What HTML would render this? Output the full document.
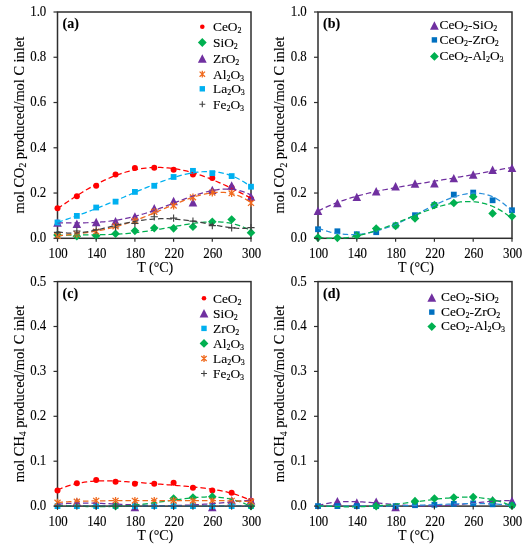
<!DOCTYPE html>
<html><head><meta charset="utf-8"><style>
html,body{margin:0;padding:0;background:#fff;width:530px;height:550px;overflow:hidden}
svg{display:block}
text{font-family:"Liberation Serif", serif;fill:#000;stroke:#000;stroke-width:0.12px}
svg{filter:blur(0.35px)}
</style></head><body>
<svg width="530" height="550" viewBox="0 0 530 550">
<rect width="530" height="550" fill="#fff"/>
<rect x="57.5" y="12" width="193.5" height="226.3" fill="none" stroke="#2e2e2e" stroke-width="1.5"/>
<circle cx="57.50" cy="208.20" r="3.0" fill="#FF0000"/>
<circle cx="76.85" cy="196.21" r="3.0" fill="#FF0000"/>
<circle cx="96.20" cy="185.80" r="3.0" fill="#FF0000"/>
<circle cx="115.55" cy="174.48" r="3.0" fill="#FF0000"/>
<circle cx="134.90" cy="167.92" r="3.0" fill="#FF0000"/>
<circle cx="154.25" cy="167.69" r="3.0" fill="#FF0000"/>
<circle cx="173.60" cy="169.73" r="3.0" fill="#FF0000"/>
<circle cx="192.95" cy="174.48" r="3.0" fill="#FF0000"/>
<circle cx="212.30" cy="178.10" r="3.0" fill="#FF0000"/>
<circle cx="231.65" cy="187.61" r="3.0" fill="#FF0000"/>
<circle cx="251.00" cy="198.70" r="3.0" fill="#FF0000"/>
<path d="M57.50 230.61L61.80 234.91L57.50 239.21L53.20 234.91Z" fill="#00B050"/>
<path d="M76.85 231.96L81.15 236.26L76.85 240.56L72.55 236.26Z" fill="#00B050"/>
<path d="M96.20 231.51L100.50 235.81L96.20 240.11L91.90 235.81Z" fill="#00B050"/>
<path d="M115.55 229.47L119.85 233.77L115.55 238.07L111.25 233.77Z" fill="#00B050"/>
<path d="M134.90 226.53L139.20 230.83L134.90 235.13L130.60 230.83Z" fill="#00B050"/>
<path d="M154.25 223.82L158.55 228.12L154.25 232.42L149.95 228.12Z" fill="#00B050"/>
<path d="M173.60 224.04L177.90 228.34L173.60 232.64L169.30 228.34Z" fill="#00B050"/>
<path d="M192.95 222.46L197.25 226.76L192.95 231.06L188.65 226.76Z" fill="#00B050"/>
<path d="M212.30 217.48L216.60 221.78L212.30 226.08L208.00 221.78Z" fill="#00B050"/>
<path d="M231.65 215.22L235.95 219.52L231.65 223.82L227.35 219.52Z" fill="#00B050"/>
<path d="M251.00 228.34L255.30 232.64L251.00 236.94L246.70 232.64Z" fill="#00B050"/>
<path d="M57.50 218.26L61.80 226.66L53.20 226.66Z" fill="#7030A0"/>
<path d="M76.85 219.62L81.15 228.02L72.55 228.02Z" fill="#7030A0"/>
<path d="M96.20 217.81L100.50 226.21L91.90 226.21Z" fill="#7030A0"/>
<path d="M115.55 216.90L119.85 225.30L111.25 225.30Z" fill="#7030A0"/>
<path d="M134.90 212.15L139.20 220.55L130.60 220.55Z" fill="#7030A0"/>
<path d="M154.25 204.00L158.55 212.40L149.95 212.40Z" fill="#7030A0"/>
<path d="M173.60 196.76L177.90 205.16L169.30 205.16Z" fill="#7030A0"/>
<path d="M192.95 198.12L197.25 206.52L188.65 206.52Z" fill="#7030A0"/>
<path d="M212.30 185.67L216.60 194.07L208.00 194.07Z" fill="#7030A0"/>
<path d="M231.65 181.37L235.95 189.77L227.35 189.77Z" fill="#7030A0"/>
<path d="M251.00 192.46L255.30 200.86L246.70 200.86Z" fill="#7030A0"/>
<path d="M57.50 232.01V239.61M54.46 232.96L60.54 238.66M60.54 232.96L54.46 238.66" stroke="#F06A1E" stroke-width="1.3" fill="none"/>
<path d="M76.85 230.20V237.80M73.81 231.15L79.89 236.85M79.89 231.15L73.81 236.85" stroke="#F06A1E" stroke-width="1.3" fill="none"/>
<path d="M96.20 227.71V235.31M93.16 228.66L99.24 234.36M99.24 228.66L93.16 234.36" stroke="#F06A1E" stroke-width="1.3" fill="none"/>
<path d="M115.55 222.51V230.11M112.51 223.46L118.59 229.16M118.59 223.46L112.51 229.16" stroke="#F06A1E" stroke-width="1.3" fill="none"/>
<path d="M134.90 217.07V224.67M131.86 218.02L137.94 223.72M137.94 218.02L131.86 223.72" stroke="#F06A1E" stroke-width="1.3" fill="none"/>
<path d="M154.25 208.02V215.62M151.21 208.97L157.29 214.67M157.29 208.97L151.21 214.67" stroke="#F06A1E" stroke-width="1.3" fill="none"/>
<path d="M173.60 201.91V209.51M170.56 202.86L176.64 208.56M176.64 202.86L170.56 208.56" stroke="#F06A1E" stroke-width="1.3" fill="none"/>
<path d="M192.95 193.54V201.14M189.91 194.49L195.99 200.19M195.99 194.49L189.91 200.19" stroke="#F06A1E" stroke-width="1.3" fill="none"/>
<path d="M212.30 188.79V196.39M209.26 189.74L215.34 195.44M215.34 189.74L209.26 195.44" stroke="#F06A1E" stroke-width="1.3" fill="none"/>
<path d="M231.65 189.47V197.07M228.61 190.42L234.69 196.12M234.69 190.42L228.61 196.12" stroke="#F06A1E" stroke-width="1.3" fill="none"/>
<path d="M251.00 199.20V206.80M247.96 200.15L254.04 205.85M254.04 200.15L247.96 205.85" stroke="#F06A1E" stroke-width="1.3" fill="none"/>
<rect x="54.60" y="219.56" width="5.8" height="5.8" fill="#00B0F0"/>
<rect x="73.95" y="213.00" width="5.8" height="5.8" fill="#00B0F0"/>
<rect x="93.30" y="204.62" width="5.8" height="5.8" fill="#00B0F0"/>
<rect x="112.65" y="198.74" width="5.8" height="5.8" fill="#00B0F0"/>
<rect x="132.00" y="189.01" width="5.8" height="5.8" fill="#00B0F0"/>
<rect x="151.35" y="182.90" width="5.8" height="5.8" fill="#00B0F0"/>
<rect x="170.70" y="174.07" width="5.8" height="5.8" fill="#00B0F0"/>
<rect x="190.05" y="167.96" width="5.8" height="5.8" fill="#00B0F0"/>
<rect x="209.40" y="170.23" width="5.8" height="5.8" fill="#00B0F0"/>
<rect x="228.75" y="173.17" width="5.8" height="5.8" fill="#00B0F0"/>
<rect x="248.10" y="183.80" width="5.8" height="5.8" fill="#00B0F0"/>
<path d="M53.90 232.42H61.10M57.50 228.82V236.02" stroke="#404040" stroke-width="1.1" fill="none"/>
<path d="M73.25 231.06H80.45M76.85 227.46V234.66" stroke="#404040" stroke-width="1.1" fill="none"/>
<path d="M92.60 229.70H99.80M96.20 226.10V233.30" stroke="#404040" stroke-width="1.1" fill="none"/>
<path d="M111.95 226.99H119.15M115.55 223.39V230.59" stroke="#404040" stroke-width="1.1" fill="none"/>
<path d="M131.30 223.36H138.50M134.90 219.76V226.96" stroke="#404040" stroke-width="1.1" fill="none"/>
<path d="M150.65 216.80H157.85M154.25 213.20V220.40" stroke="#404040" stroke-width="1.1" fill="none"/>
<path d="M170.00 218.16H177.20M173.60 214.56V221.76" stroke="#404040" stroke-width="1.1" fill="none"/>
<path d="M189.35 221.10H196.55M192.95 217.50V224.70" stroke="#404040" stroke-width="1.1" fill="none"/>
<path d="M208.70 225.63H215.90M212.30 222.03V229.23" stroke="#404040" stroke-width="1.1" fill="none"/>
<path d="M228.05 227.89H235.25M231.65 224.29V231.49" stroke="#404040" stroke-width="1.1" fill="none"/>
<path d="M247.40 227.66H254.60M251.00 224.06V231.26" stroke="#404040" stroke-width="1.1" fill="none"/>
<polyline points="57.50,208.72 59.95,207.01 62.40,205.31 64.85,203.62 67.30,201.95 69.75,200.30 72.20,198.68 74.65,197.08 77.09,195.50 79.54,193.95 81.99,192.44 84.44,190.95 86.89,189.50 89.34,188.09 91.79,186.71 94.24,185.37 96.69,184.07 99.14,182.81 101.59,181.60 104.04,180.42 106.49,179.30 108.94,178.21 111.39,177.18 113.84,176.19 116.28,175.26 118.73,174.37 121.18,173.54 123.63,172.75 126.08,172.02 128.53,171.34 130.98,170.71 133.43,170.14 135.88,169.62 138.33,169.16 140.78,168.75 143.23,168.40 145.68,168.10 148.13,167.85 150.58,167.66 153.03,167.53 155.47,167.45 157.92,167.42 160.37,167.45 162.82,167.54 165.27,167.67 167.72,167.86 170.17,168.11 172.62,168.40 175.07,168.75 177.52,169.14 179.97,169.59 182.42,170.08 184.87,170.63 187.32,171.22 189.77,171.85 192.22,172.53 194.66,173.25 197.11,174.02 199.56,174.82 202.01,175.67 204.46,176.55 206.91,177.47 209.36,178.43 211.81,179.42 214.26,180.43 216.71,181.48 219.16,182.56 221.61,183.66 224.06,184.79 226.51,185.93 228.96,187.10 231.41,188.28 233.85,189.48 236.30,190.69 238.75,191.92 241.20,193.15 243.65,194.38 246.10,195.62 248.55,196.85 251.00,198.09" fill="none" stroke="#FF0000" stroke-width="1.25" stroke-dasharray="5.5 3"/>
<polyline points="57.50,235.80 59.95,235.60 62.40,235.44 64.85,235.30 67.30,235.19 69.75,235.10 72.20,235.03 74.65,234.98 77.09,234.94 79.54,234.91 81.99,234.88 84.44,234.87 86.89,234.85 89.34,234.83 91.79,234.82 94.24,234.80 96.69,234.77 99.14,234.74 101.59,234.70 104.04,234.64 106.49,234.58 108.94,234.50 111.39,234.41 113.84,234.30 116.28,234.18 118.73,234.04 121.18,233.89 123.63,233.71 126.08,233.52 128.53,233.31 130.98,233.08 133.43,232.83 135.88,232.56 138.33,232.28 140.78,231.98 143.23,231.66 145.68,231.32 148.13,230.97 150.58,230.61 153.03,230.23 155.47,229.83 157.92,229.43 160.37,229.02 162.82,228.59 165.27,228.16 167.72,227.73 170.17,227.29 172.62,226.85 175.07,226.41 177.52,225.98 179.97,225.55 182.42,225.13 184.87,224.72 187.32,224.32 189.77,223.94 192.22,223.58 194.66,223.24 197.11,222.93 199.56,222.65 202.01,222.40 204.46,222.19 206.91,222.01 209.36,221.89 211.81,221.81 214.26,221.78 216.71,221.81 219.16,221.90 221.61,222.05 224.06,222.28 226.51,222.58 228.96,222.96 231.41,223.43 233.85,223.99 236.30,224.64 238.75,225.39 241.20,226.25 243.65,227.22 246.10,228.31 248.55,229.53 251.00,230.87" fill="none" stroke="#00B050" stroke-width="1.25" stroke-dasharray="5.5 3"/>
<polyline points="57.50,222.96 59.95,222.93 62.40,222.90 64.85,222.89 67.30,222.89 69.75,222.89 72.20,222.89 74.65,222.89 77.09,222.88 79.54,222.87 81.99,222.84 84.44,222.81 86.89,222.75 89.34,222.68 91.79,222.59 94.24,222.48 96.69,222.34 99.14,222.18 101.59,221.99 104.04,221.77 106.49,221.53 108.94,221.25 111.39,220.94 113.84,220.60 116.28,220.23 118.73,219.83 121.18,219.39 123.63,218.92 126.08,218.41 128.53,217.88 130.98,217.31 133.43,216.70 135.88,216.07 138.33,215.40 140.78,214.71 143.23,213.98 145.68,213.23 148.13,212.45 150.58,211.64 153.03,210.81 155.47,209.96 157.92,209.09 160.37,208.20 162.82,207.30 165.27,206.38 167.72,205.45 170.17,204.52 172.62,203.58 175.07,202.63 177.52,201.69 179.97,200.75 182.42,199.82 184.87,198.89 187.32,197.99 189.77,197.10 192.22,196.23 194.66,195.39 197.11,194.58 199.56,193.81 202.01,193.07 204.46,192.39 206.91,191.74 209.36,191.16 211.81,190.63 214.26,190.17 216.71,189.78 219.16,189.46 221.61,189.23 224.06,189.08 226.51,189.03 228.96,189.08 231.41,189.23 233.85,189.49 236.30,189.88 238.75,190.39 241.20,191.03 243.65,191.82 246.10,192.75 248.55,193.83 251.00,195.08" fill="none" stroke="#7030A0" stroke-width="1.25" stroke-dasharray="5.5 3"/>
<polyline points="57.50,235.90 59.95,235.66 62.40,235.42 64.85,235.18 67.30,234.94 69.75,234.70 72.20,234.45 74.65,234.18 77.09,233.91 79.54,233.62 81.99,233.31 84.44,232.99 86.89,232.65 89.34,232.28 91.79,231.90 94.24,231.48 96.69,231.05 99.14,230.58 101.59,230.09 104.04,229.57 106.49,229.02 108.94,228.45 111.39,227.84 113.84,227.21 116.28,226.54 118.73,225.84 121.18,225.12 123.63,224.37 126.08,223.59 128.53,222.78 130.98,221.94 133.43,221.08 135.88,220.19 138.33,219.28 140.78,218.35 143.23,217.39 145.68,216.42 148.13,215.43 150.58,214.42 153.03,213.41 155.47,212.38 157.92,211.34 160.37,210.29 162.82,209.24 165.27,208.19 167.72,207.15 170.17,206.10 172.62,205.07 175.07,204.05 177.52,203.04 179.97,202.05 182.42,201.08 184.87,200.14 187.32,199.23 189.77,198.36 192.22,197.52 194.66,196.73 197.11,195.99 199.56,195.29 202.01,194.66 204.46,194.09 206.91,193.58 209.36,193.15 211.81,192.80 214.26,192.53 216.71,192.35 219.16,192.27 221.61,192.29 224.06,192.42 226.51,192.66 228.96,193.02 231.41,193.51 233.85,194.13 236.30,194.89 238.75,195.80 241.20,196.87 243.65,198.10 246.10,199.50 248.55,201.07 251.00,202.83" fill="none" stroke="#F06A1E" stroke-width="1.25" stroke-dasharray="5.5 3"/>
<polyline points="57.50,222.32 59.95,221.54 62.40,220.74 64.85,219.93 67.30,219.11 69.75,218.28 72.20,217.44 74.65,216.59 77.09,215.73 79.54,214.85 81.99,213.96 84.44,213.06 86.89,212.14 89.34,211.22 91.79,210.28 94.24,209.33 96.69,208.37 99.14,207.40 101.59,206.42 104.04,205.42 106.49,204.42 108.94,203.41 111.39,202.39 113.84,201.37 116.28,200.34 118.73,199.30 121.18,198.26 123.63,197.21 126.08,196.16 128.53,195.12 130.98,194.07 133.43,193.02 135.88,191.98 138.33,190.94 140.78,189.90 143.23,188.88 145.68,187.86 148.13,186.85 150.58,185.86 153.03,184.88 155.47,183.91 157.92,182.97 160.37,182.04 162.82,181.14 165.27,180.27 167.72,179.41 170.17,178.59 172.62,177.80 175.07,177.05 177.52,176.33 179.97,175.65 182.42,175.01 184.87,174.42 187.32,173.87 189.77,173.38 192.22,172.93 194.66,172.55 197.11,172.22 199.56,171.95 202.01,171.75 204.46,171.62 206.91,171.56 209.36,171.58 211.81,171.68 214.26,171.85 216.71,172.12 219.16,172.47 221.61,172.92 224.06,173.46 226.51,174.11 228.96,174.86 231.41,175.71 233.85,176.69 236.30,177.77 238.75,178.98 241.20,180.32 243.65,181.78 246.10,183.38 248.55,185.12 251.00,187.00" fill="none" stroke="#00B0F0" stroke-width="1.25" stroke-dasharray="5.5 3"/>
<polyline points="57.50,231.51 59.95,232.06 62.40,232.48 64.85,232.80 67.30,233.01 69.75,233.12 72.20,233.14 74.65,233.09 77.09,232.95 79.54,232.75 81.99,232.48 84.44,232.16 86.89,231.79 89.34,231.37 91.79,230.91 94.24,230.42 96.69,229.90 99.14,229.36 101.59,228.80 104.04,228.22 106.49,227.63 108.94,227.04 111.39,226.44 113.84,225.85 116.28,225.27 118.73,224.69 121.18,224.12 123.63,223.57 126.08,223.04 128.53,222.54 130.98,222.05 133.43,221.59 135.88,221.16 138.33,220.76 140.78,220.39 143.23,220.05 145.68,219.75 148.13,219.49 150.58,219.26 153.03,219.07 155.47,218.92 157.92,218.80 160.37,218.73 162.82,218.70 165.27,218.70 167.72,218.74 170.17,218.82 172.62,218.94 175.07,219.09 177.52,219.28 179.97,219.51 182.42,219.76 184.87,220.05 187.32,220.36 189.77,220.71 192.22,221.07 194.66,221.46 197.11,221.87 199.56,222.29 202.01,222.73 204.46,223.18 206.91,223.63 209.36,224.09 211.81,224.55 214.26,225.00 216.71,225.45 219.16,225.88 221.61,226.30 224.06,226.69 226.51,227.05 228.96,227.39 231.41,227.68 233.85,227.93 236.30,228.14 238.75,228.28 241.20,228.37 243.65,228.39 246.10,228.34 248.55,228.21 251.00,227.99" fill="none" stroke="#404040" stroke-width="1.25" stroke-dasharray="5.5 3"/>
<line x1="53.5" y1="238.30" x2="57.5" y2="238.30" stroke="#2e2e2e" stroke-width="1.2"/>
<text transform="translate(46.30,242.20) scale(0.92,1)" font-size="14" text-anchor="end">0.0</text>
<line x1="53.5" y1="193.04" x2="57.5" y2="193.04" stroke="#2e2e2e" stroke-width="1.2"/>
<text transform="translate(46.30,196.94) scale(0.92,1)" font-size="14" text-anchor="end">0.2</text>
<line x1="53.5" y1="147.78" x2="57.5" y2="147.78" stroke="#2e2e2e" stroke-width="1.2"/>
<text transform="translate(46.30,151.68) scale(0.92,1)" font-size="14" text-anchor="end">0.4</text>
<line x1="53.5" y1="102.52" x2="57.5" y2="102.52" stroke="#2e2e2e" stroke-width="1.2"/>
<text transform="translate(46.30,106.42) scale(0.92,1)" font-size="14" text-anchor="end">0.6</text>
<line x1="53.5" y1="57.26" x2="57.5" y2="57.26" stroke="#2e2e2e" stroke-width="1.2"/>
<text transform="translate(46.30,61.16) scale(0.92,1)" font-size="14" text-anchor="end">0.8</text>
<line x1="53.5" y1="12.00" x2="57.5" y2="12.00" stroke="#2e2e2e" stroke-width="1.2"/>
<text transform="translate(46.30,15.90) scale(0.92,1)" font-size="14" text-anchor="end">1.0</text>
<line x1="57.50" y1="238.3" x2="57.50" y2="241.8" stroke="#2e2e2e" stroke-width="1.2"/>
<line x1="96.20" y1="238.3" x2="96.20" y2="241.8" stroke="#2e2e2e" stroke-width="1.2"/>
<line x1="134.90" y1="238.3" x2="134.90" y2="241.8" stroke="#2e2e2e" stroke-width="1.2"/>
<line x1="173.60" y1="238.3" x2="173.60" y2="241.8" stroke="#2e2e2e" stroke-width="1.2"/>
<line x1="212.30" y1="238.3" x2="212.30" y2="241.8" stroke="#2e2e2e" stroke-width="1.2"/>
<line x1="251.00" y1="238.3" x2="251.00" y2="241.8" stroke="#2e2e2e" stroke-width="1.2"/>
<text transform="translate(58.10,257.80) scale(0.92,1)" font-size="14" text-anchor="middle">100</text>
<text transform="translate(96.80,257.80) scale(0.92,1)" font-size="14" text-anchor="middle">140</text>
<text transform="translate(135.50,257.80) scale(0.92,1)" font-size="14" text-anchor="middle">180</text>
<text transform="translate(174.20,257.80) scale(0.92,1)" font-size="14" text-anchor="middle">220</text>
<text transform="translate(212.90,257.80) scale(0.92,1)" font-size="14" text-anchor="middle">260</text>
<text transform="translate(251.60,257.80) scale(0.92,1)" font-size="14" text-anchor="middle">300</text>
<text x="155.25" y="272.10" font-size="14" text-anchor="middle">T (°C)</text>
<text transform="translate(23.70,125.15) rotate(-90)" font-size="14.4" text-anchor="middle">mol CO<tspan font-size="9.5" dy="2.6">2</tspan><tspan dy="-2.6"> produced/mol C inlet</tspan></text>
<text x="62.5" y="28.2" font-size="14" font-weight="bold">(a)</text>
<rect x="318" y="12" width="194" height="226.3" fill="none" stroke="#2e2e2e" stroke-width="1.5"/>
<path d="M318.00 206.49L322.30 214.89L313.70 214.89Z" fill="#7030A0"/>
<path d="M337.40 198.80L341.70 207.20L333.10 207.20Z" fill="#7030A0"/>
<path d="M356.80 192.69L361.10 201.09L352.50 201.09Z" fill="#7030A0"/>
<path d="M376.20 187.03L380.50 195.43L371.90 195.43Z" fill="#7030A0"/>
<path d="M395.60 182.05L399.90 190.45L391.30 190.45Z" fill="#7030A0"/>
<path d="M415.00 179.34L419.30 187.74L410.70 187.74Z" fill="#7030A0"/>
<path d="M434.40 179.11L438.70 187.51L430.10 187.51Z" fill="#7030A0"/>
<path d="M453.80 173.90L458.10 182.30L449.50 182.30Z" fill="#7030A0"/>
<path d="M473.20 170.28L477.50 178.68L468.90 178.68Z" fill="#7030A0"/>
<path d="M492.60 165.53L496.90 173.93L488.30 173.93Z" fill="#7030A0"/>
<path d="M512.00 163.72L516.30 172.12L507.70 172.12Z" fill="#7030A0"/>
<rect x="315.10" y="226.35" width="5.8" height="5.8" fill="#0070C0"/>
<rect x="334.50" y="228.38" width="5.8" height="5.8" fill="#0070C0"/>
<rect x="353.90" y="231.33" width="5.8" height="5.8" fill="#0070C0"/>
<rect x="373.30" y="229.29" width="5.8" height="5.8" fill="#0070C0"/>
<rect x="392.70" y="222.50" width="5.8" height="5.8" fill="#0070C0"/>
<rect x="412.10" y="212.32" width="5.8" height="5.8" fill="#0070C0"/>
<rect x="431.50" y="202.13" width="5.8" height="5.8" fill="#0070C0"/>
<rect x="450.90" y="191.72" width="5.8" height="5.8" fill="#0070C0"/>
<rect x="470.30" y="189.69" width="5.8" height="5.8" fill="#0070C0"/>
<rect x="489.70" y="197.38" width="5.8" height="5.8" fill="#0070C0"/>
<rect x="509.10" y="207.34" width="5.8" height="5.8" fill="#0070C0"/>
<path d="M318.00 233.32L322.30 237.62L318.00 241.92L313.70 237.62Z" fill="#00B050"/>
<path d="M337.40 233.55L341.70 237.85L337.40 242.15L333.10 237.85Z" fill="#00B050"/>
<path d="M356.80 231.28L361.10 235.58L356.80 239.88L352.50 235.58Z" fill="#00B050"/>
<path d="M376.20 224.27L380.50 228.57L376.20 232.87L371.90 228.57Z" fill="#00B050"/>
<path d="M395.60 221.55L399.90 225.85L395.60 230.15L391.30 225.85Z" fill="#00B050"/>
<path d="M415.00 214.09L419.30 218.39L415.00 222.69L410.70 218.39Z" fill="#00B050"/>
<path d="M434.40 200.73L438.70 205.03L434.40 209.33L430.10 205.03Z" fill="#00B050"/>
<path d="M453.80 198.70L458.10 203.00L453.80 207.30L449.50 203.00Z" fill="#00B050"/>
<path d="M473.20 192.36L477.50 196.66L473.20 200.96L468.90 196.66Z" fill="#00B050"/>
<path d="M492.60 209.11L496.90 213.41L492.60 217.71L488.30 213.41Z" fill="#00B050"/>
<path d="M512.00 212.05L516.30 216.35L512.00 220.65L507.70 216.35Z" fill="#00B050"/>
<polyline points="318.00,211.08 320.46,209.84 322.91,208.65 325.37,207.51 327.82,206.41 330.28,205.35 332.73,204.33 335.19,203.35 337.65,202.41 340.10,201.50 342.56,200.63 345.01,199.80 347.47,198.99 349.92,198.21 352.38,197.47 354.84,196.75 357.29,196.05 359.75,195.38 362.20,194.73 364.66,194.11 367.11,193.50 369.57,192.92 372.03,192.35 374.48,191.80 376.94,191.27 379.39,190.75 381.85,190.25 384.30,189.76 386.76,189.28 389.22,188.81 391.67,188.35 394.13,187.90 396.58,187.46 399.04,187.03 401.49,186.60 403.95,186.18 406.41,185.76 408.86,185.35 411.32,184.94 413.77,184.54 416.23,184.14 418.68,183.74 421.14,183.34 423.59,182.94 426.05,182.54 428.51,182.15 430.96,181.75 433.42,181.35 435.87,180.95 438.33,180.55 440.78,180.14 443.24,179.74 445.70,179.33 448.15,178.92 450.61,178.51 453.06,178.09 455.52,177.67 457.97,177.24 460.43,176.82 462.89,176.39 465.34,175.95 467.80,175.52 470.25,175.08 472.71,174.63 475.16,174.19 477.62,173.74 480.08,173.29 482.53,172.83 484.99,172.38 487.44,171.92 489.90,171.46 492.35,171.00 494.81,170.54 497.27,170.07 499.72,169.61 502.18,169.15 504.63,168.69 507.09,168.23 509.54,167.77 512.00,167.32" fill="none" stroke="#7030A0" stroke-width="1.25" stroke-dasharray="5.5 3"/>
<polyline points="318.00,228.17 320.46,229.08 322.91,229.92 325.37,230.69 327.82,231.39 330.28,232.02 332.73,232.59 335.19,233.08 337.65,233.50 340.10,233.85 342.56,234.13 345.01,234.34 347.47,234.48 349.92,234.55 352.38,234.55 354.84,234.47 357.29,234.33 359.75,234.12 362.20,233.85 364.66,233.51 367.11,233.10 369.57,232.63 372.03,232.10 374.48,231.51 376.94,230.86 379.39,230.15 381.85,229.39 384.30,228.58 386.76,227.71 389.22,226.80 391.67,225.84 394.13,224.84 396.58,223.80 399.04,222.73 401.49,221.62 403.95,220.48 406.41,219.31 408.86,218.12 411.32,216.90 413.77,215.68 416.23,214.43 418.68,213.18 421.14,211.93 423.59,210.67 426.05,209.42 428.51,208.18 430.96,206.95 433.42,205.74 435.87,204.55 438.33,203.39 440.78,202.26 443.24,201.17 445.70,200.13 448.15,199.13 450.61,198.19 453.06,197.31 455.52,196.49 457.97,195.75 460.43,195.08 462.89,194.51 465.34,194.02 467.80,193.63 470.25,193.35 472.71,193.17 475.16,193.12 477.62,193.19 480.08,193.40 482.53,193.75 484.99,194.24 487.44,194.89 489.90,195.71 492.35,196.69 494.81,197.85 497.27,199.21 499.72,200.75 502.18,202.51 504.63,204.47 507.09,206.66 509.54,209.07 512.00,211.73" fill="none" stroke="#2A8FDA" stroke-width="1.25" stroke-dasharray="5.5 3"/>
<polyline points="318.00,237.11 320.46,237.50 322.91,237.82 325.37,238.08 327.82,238.26 330.28,238.38 332.73,238.44 335.19,238.44 337.65,238.37 340.10,238.24 342.56,238.05 345.01,237.81 347.47,237.51 349.92,237.16 352.38,236.76 354.84,236.31 357.29,235.81 359.75,235.26 362.20,234.67 364.66,234.03 367.11,233.36 369.57,232.64 372.03,231.89 374.48,231.11 376.94,230.29 379.39,229.45 381.85,228.57 384.30,227.67 386.76,226.75 389.22,225.81 391.67,224.85 394.13,223.87 396.58,222.88 399.04,221.89 401.49,220.88 403.95,219.87 406.41,218.85 408.86,217.84 411.32,216.82 413.77,215.82 416.23,214.82 418.68,213.84 421.14,212.87 423.59,211.92 426.05,210.98 428.51,210.08 430.96,209.20 433.42,208.35 435.87,207.53 438.33,206.75 440.78,206.01 443.24,205.32 445.70,204.67 448.15,204.07 450.61,203.53 453.06,203.05 455.52,202.62 457.97,202.26 460.43,201.97 462.89,201.75 465.34,201.61 467.80,201.55 470.25,201.57 472.71,201.68 475.16,201.89 477.62,202.19 480.08,202.58 482.53,203.09 484.99,203.70 487.44,204.42 489.90,205.26 492.35,206.22 494.81,207.31 497.27,208.53 499.72,209.88 502.18,211.36 504.63,213.00 507.09,214.78 509.54,216.71 512.00,218.80" fill="none" stroke="#00B050" stroke-width="1.25" stroke-dasharray="5.5 3"/>
<line x1="314" y1="238.30" x2="318" y2="238.30" stroke="#2e2e2e" stroke-width="1.2"/>
<text transform="translate(306.80,242.20) scale(0.92,1)" font-size="14" text-anchor="end">0.0</text>
<line x1="314" y1="193.04" x2="318" y2="193.04" stroke="#2e2e2e" stroke-width="1.2"/>
<text transform="translate(306.80,196.94) scale(0.92,1)" font-size="14" text-anchor="end">0.2</text>
<line x1="314" y1="147.78" x2="318" y2="147.78" stroke="#2e2e2e" stroke-width="1.2"/>
<text transform="translate(306.80,151.68) scale(0.92,1)" font-size="14" text-anchor="end">0.4</text>
<line x1="314" y1="102.52" x2="318" y2="102.52" stroke="#2e2e2e" stroke-width="1.2"/>
<text transform="translate(306.80,106.42) scale(0.92,1)" font-size="14" text-anchor="end">0.6</text>
<line x1="314" y1="57.26" x2="318" y2="57.26" stroke="#2e2e2e" stroke-width="1.2"/>
<text transform="translate(306.80,61.16) scale(0.92,1)" font-size="14" text-anchor="end">0.8</text>
<line x1="314" y1="12.00" x2="318" y2="12.00" stroke="#2e2e2e" stroke-width="1.2"/>
<text transform="translate(306.80,15.90) scale(0.92,1)" font-size="14" text-anchor="end">1.0</text>
<line x1="318.00" y1="238.3" x2="318.00" y2="241.8" stroke="#2e2e2e" stroke-width="1.2"/>
<line x1="356.80" y1="238.3" x2="356.80" y2="241.8" stroke="#2e2e2e" stroke-width="1.2"/>
<line x1="395.60" y1="238.3" x2="395.60" y2="241.8" stroke="#2e2e2e" stroke-width="1.2"/>
<line x1="434.40" y1="238.3" x2="434.40" y2="241.8" stroke="#2e2e2e" stroke-width="1.2"/>
<line x1="473.20" y1="238.3" x2="473.20" y2="241.8" stroke="#2e2e2e" stroke-width="1.2"/>
<line x1="512.00" y1="238.3" x2="512.00" y2="241.8" stroke="#2e2e2e" stroke-width="1.2"/>
<text transform="translate(318.60,257.80) scale(0.92,1)" font-size="14" text-anchor="middle">100</text>
<text transform="translate(357.40,257.80) scale(0.92,1)" font-size="14" text-anchor="middle">140</text>
<text transform="translate(396.20,257.80) scale(0.92,1)" font-size="14" text-anchor="middle">180</text>
<text transform="translate(435.00,257.80) scale(0.92,1)" font-size="14" text-anchor="middle">220</text>
<text transform="translate(473.80,257.80) scale(0.92,1)" font-size="14" text-anchor="middle">260</text>
<text transform="translate(512.60,257.80) scale(0.92,1)" font-size="14" text-anchor="middle">300</text>
<text x="416.00" y="272.10" font-size="14" text-anchor="middle">T (°C)</text>
<text transform="translate(284.20,125.15) rotate(-90)" font-size="14.4" text-anchor="middle">mol CO<tspan font-size="9.5" dy="2.6">2</tspan><tspan dy="-2.6"> produced/mol C inlet</tspan></text>
<text x="323" y="28.2" font-size="14" font-weight="bold">(b)</text>
<rect x="57.5" y="281.6" width="193.5" height="224.5" fill="none" stroke="#2e2e2e" stroke-width="1.5"/>
<circle cx="57.50" cy="490.39" r="3.0" fill="#FF0000"/>
<circle cx="76.85" cy="483.20" r="3.0" fill="#FF0000"/>
<circle cx="96.20" cy="480.06" r="3.0" fill="#FF0000"/>
<circle cx="115.55" cy="481.85" r="3.0" fill="#FF0000"/>
<circle cx="134.90" cy="483.65" r="3.0" fill="#FF0000"/>
<circle cx="154.25" cy="483.65" r="3.0" fill="#FF0000"/>
<circle cx="173.60" cy="482.75" r="3.0" fill="#FF0000"/>
<circle cx="192.95" cy="487.69" r="3.0" fill="#FF0000"/>
<circle cx="212.30" cy="490.39" r="3.0" fill="#FF0000"/>
<circle cx="231.65" cy="492.63" r="3.0" fill="#FF0000"/>
<circle cx="251.00" cy="500.71" r="3.0" fill="#FF0000"/>
<path d="M76.85 497.86L81.15 506.26L72.55 506.26Z" fill="#7030A0"/>
<path d="M134.90 502.80L139.20 511.20L130.60 511.20Z" fill="#7030A0"/>
<path d="M212.30 502.80L216.60 511.20L208.00 511.20Z" fill="#7030A0"/>
<path d="M231.65 496.06L235.95 504.46L227.35 504.46Z" fill="#7030A0"/>
<path d="M251.00 496.06L255.30 504.46L246.70 504.46Z" fill="#7030A0"/>
<rect x="54.60" y="503.20" width="5.8" height="5.8" fill="#00B0F0"/>
<rect x="73.95" y="503.20" width="5.8" height="5.8" fill="#00B0F0"/>
<rect x="93.30" y="503.20" width="5.8" height="5.8" fill="#00B0F0"/>
<rect x="112.65" y="503.20" width="5.8" height="5.8" fill="#00B0F0"/>
<rect x="132.00" y="503.20" width="5.8" height="5.8" fill="#00B0F0"/>
<rect x="151.35" y="503.20" width="5.8" height="5.8" fill="#00B0F0"/>
<rect x="170.70" y="503.20" width="5.8" height="5.8" fill="#00B0F0"/>
<rect x="190.05" y="503.20" width="5.8" height="5.8" fill="#00B0F0"/>
<rect x="209.40" y="503.20" width="5.8" height="5.8" fill="#00B0F0"/>
<rect x="228.75" y="503.20" width="5.8" height="5.8" fill="#00B0F0"/>
<rect x="248.10" y="503.20" width="5.8" height="5.8" fill="#00B0F0"/>
<path d="M115.55 501.80L119.85 506.10L115.55 510.40L111.25 506.10Z" fill="#00B050"/>
<path d="M173.60 494.17L177.90 498.47L173.60 502.77L169.30 498.47Z" fill="#00B050"/>
<path d="M192.95 493.27L197.25 497.57L192.95 501.87L188.65 497.57Z" fill="#00B050"/>
<path d="M212.30 492.37L216.60 496.67L212.30 500.97L208.00 496.67Z" fill="#00B050"/>
<path d="M251.00 501.80L255.30 506.10L251.00 510.40L246.70 506.10Z" fill="#00B050"/>
<path d="M57.50 498.71V506.31M54.46 499.66L60.54 505.36M60.54 499.66L54.46 505.36" stroke="#F06A1E" stroke-width="1.3" fill="none"/>
<path d="M76.85 497.81V505.41M73.81 498.76L79.89 504.46M79.89 498.76L73.81 504.46" stroke="#F06A1E" stroke-width="1.3" fill="none"/>
<path d="M96.20 496.91V504.51M93.16 497.86L99.24 503.56M99.24 497.86L93.16 503.56" stroke="#F06A1E" stroke-width="1.3" fill="none"/>
<path d="M115.55 496.91V504.51M112.51 497.86L118.59 503.56M118.59 497.86L112.51 503.56" stroke="#F06A1E" stroke-width="1.3" fill="none"/>
<path d="M134.90 496.91V504.51M131.86 497.86L137.94 503.56M137.94 497.86L131.86 503.56" stroke="#F06A1E" stroke-width="1.3" fill="none"/>
<path d="M154.25 496.91V504.51M151.21 497.86L157.29 503.56M157.29 497.86L151.21 503.56" stroke="#F06A1E" stroke-width="1.3" fill="none"/>
<path d="M173.60 496.91V504.51M170.56 497.86L176.64 503.56M176.64 497.86L170.56 503.56" stroke="#F06A1E" stroke-width="1.3" fill="none"/>
<path d="M192.95 496.91V504.51M189.91 497.86L195.99 503.56M195.99 497.86L189.91 503.56" stroke="#F06A1E" stroke-width="1.3" fill="none"/>
<path d="M212.30 496.91V504.51M209.26 497.86L215.34 503.56M215.34 497.86L209.26 503.56" stroke="#F06A1E" stroke-width="1.3" fill="none"/>
<path d="M231.65 496.91V504.51M228.61 497.86L234.69 503.56M234.69 497.86L228.61 503.56" stroke="#F06A1E" stroke-width="1.3" fill="none"/>
<path d="M251.00 497.81V505.41M247.96 498.76L254.04 504.46M254.04 498.76L247.96 504.46" stroke="#F06A1E" stroke-width="1.3" fill="none"/>
<path d="M53.90 506.10H61.10M57.50 502.50V509.70" stroke="#404040" stroke-width="1.1" fill="none"/>
<path d="M73.25 506.10H80.45M76.85 502.50V509.70" stroke="#404040" stroke-width="1.1" fill="none"/>
<path d="M92.60 506.10H99.80M96.20 502.50V509.70" stroke="#404040" stroke-width="1.1" fill="none"/>
<path d="M111.95 506.10H119.15M115.55 502.50V509.70" stroke="#404040" stroke-width="1.1" fill="none"/>
<path d="M131.30 506.10H138.50M134.90 502.50V509.70" stroke="#404040" stroke-width="1.1" fill="none"/>
<path d="M150.65 506.10H157.85M154.25 502.50V509.70" stroke="#404040" stroke-width="1.1" fill="none"/>
<path d="M170.00 506.10H177.20M173.60 502.50V509.70" stroke="#404040" stroke-width="1.1" fill="none"/>
<path d="M189.35 506.10H196.55M192.95 502.50V509.70" stroke="#404040" stroke-width="1.1" fill="none"/>
<path d="M208.70 506.10H215.90M212.30 502.50V509.70" stroke="#404040" stroke-width="1.1" fill="none"/>
<path d="M228.05 506.10H235.25M231.65 502.50V509.70" stroke="#404040" stroke-width="1.1" fill="none"/>
<path d="M247.40 506.10H254.60M251.00 502.50V509.70" stroke="#404040" stroke-width="1.1" fill="none"/>
<polyline points="57.50,490.10 59.95,488.96 62.40,487.91 64.85,486.96 67.30,486.10 69.75,485.32 72.20,484.62 74.65,483.99 77.09,483.43 79.54,482.94 81.99,482.51 84.44,482.14 86.89,481.83 89.34,481.56 91.79,481.34 94.24,481.17 96.69,481.04 99.14,480.94 101.59,480.88 104.04,480.86 106.49,480.86 108.94,480.88 111.39,480.94 113.84,481.01 116.28,481.10 118.73,481.21 121.18,481.34 123.63,481.48 126.08,481.63 128.53,481.79 130.98,481.95 133.43,482.13 135.88,482.31 138.33,482.50 140.78,482.68 143.23,482.87 145.68,483.07 148.13,483.26 150.58,483.45 153.03,483.65 155.47,483.84 157.92,484.03 160.37,484.22 162.82,484.41 165.27,484.60 167.72,484.79 170.17,484.98 172.62,485.17 175.07,485.36 177.52,485.55 179.97,485.75 182.42,485.94 184.87,486.15 187.32,486.36 189.77,486.57 192.22,486.80 194.66,487.03 197.11,487.28 199.56,487.54 202.01,487.81 204.46,488.11 206.91,488.42 209.36,488.76 211.81,489.12 214.26,489.51 216.71,489.92 219.16,490.37 221.61,490.86 224.06,491.38 226.51,491.95 228.96,492.56 231.41,493.22 233.85,493.93 236.30,494.70 238.75,495.52 241.20,496.41 243.65,497.37 246.10,498.39 248.55,499.50 251.00,500.68" fill="none" stroke="#FF0000" stroke-width="1.25" stroke-dasharray="5.5 3"/>
<polyline points="57.50,504.27 59.95,504.02 62.40,503.81 64.85,503.63 67.30,503.47 69.75,503.34 72.20,503.24 74.65,503.16 77.09,503.11 79.54,503.07 81.99,503.05 84.44,503.05 86.89,503.07 89.34,503.10 91.79,503.15 94.24,503.21 96.69,503.27 99.14,503.35 101.59,503.44 104.04,503.53 106.49,503.63 108.94,503.74 111.39,503.85 113.84,503.96 116.28,504.07 118.73,504.19 121.18,504.30 123.63,504.42 126.08,504.53 128.53,504.64 130.98,504.75 133.43,504.85 135.88,504.95 138.33,505.04 140.78,505.13 143.23,505.21 145.68,505.29 148.13,505.35 150.58,505.41 153.03,505.46 155.47,505.51 157.92,505.54 160.37,505.56 162.82,505.58 165.27,505.58 167.72,505.57 170.17,505.55 172.62,505.53 175.07,505.49 177.52,505.44 179.97,505.38 182.42,505.31 184.87,505.23 187.32,505.13 189.77,505.03 192.22,504.92 194.66,504.79 197.11,504.66 199.56,504.52 202.01,504.36 204.46,504.20 206.91,504.03 209.36,503.85 211.81,503.66 214.26,503.47 216.71,503.26 219.16,503.06 221.61,502.84 224.06,502.62 226.51,502.40 228.96,502.17 231.41,501.93 233.85,501.70 236.30,501.46 238.75,501.23 241.20,500.99 243.65,500.75 246.10,500.52 248.55,500.29 251.00,500.06" fill="none" stroke="#7030A0" stroke-width="1.25" stroke-dasharray="5.5 3"/>
<polyline points="57.50,506.10 59.95,506.10 62.40,506.10 64.85,506.10 67.30,506.10 69.75,506.10 72.20,506.10 74.65,506.10 77.09,506.10 79.54,506.10 81.99,506.10 84.44,506.10 86.89,506.10 89.34,506.10 91.79,506.10 94.24,506.10 96.69,506.10 99.14,506.10 101.59,506.10 104.04,506.10 106.49,506.10 108.94,506.10 111.39,506.10 113.84,506.10 116.28,506.10 118.73,506.10 121.18,506.10 123.63,506.10 126.08,506.10 128.53,506.10 130.98,506.10 133.43,506.10 135.88,506.10 138.33,506.10 140.78,506.10 143.23,506.10 145.68,506.10 148.13,506.10 150.58,506.10 153.03,506.10 155.47,506.10 157.92,506.10 160.37,506.10 162.82,506.10 165.27,506.10 167.72,506.10 170.17,506.10 172.62,506.10 175.07,506.10 177.52,506.10 179.97,506.10 182.42,506.10 184.87,506.10 187.32,506.10 189.77,506.10 192.22,506.10 194.66,506.10 197.11,506.10 199.56,506.10 202.01,506.10 204.46,506.10 206.91,506.10 209.36,506.10 211.81,506.10 214.26,506.10 216.71,506.10 219.16,506.10 221.61,506.10 224.06,506.10 226.51,506.10 228.96,506.10 231.41,506.10 233.85,506.10 236.30,506.10 238.75,506.10 241.20,506.10 243.65,506.10 246.10,506.10 248.55,506.10 251.00,506.10" fill="none" stroke="#00B0F0" stroke-width="1.25" stroke-dasharray="5.5 3"/>
<polyline points="57.50,505.88 59.95,505.90 62.40,505.93 64.85,505.97 67.30,506.02 69.75,506.08 72.20,506.14 74.65,506.20 77.09,506.27 79.54,506.34 81.99,506.40 84.44,506.46 86.89,506.51 89.34,506.56 91.79,506.59 94.24,506.62 96.69,506.64 99.14,506.64 101.59,506.64 104.04,506.62 106.49,506.58 108.94,506.53 111.39,506.47 113.84,506.39 116.28,506.29 118.73,506.18 121.18,506.05 123.63,505.90 126.08,505.74 128.53,505.56 130.98,505.37 133.43,505.16 135.88,504.93 138.33,504.69 140.78,504.43 143.23,504.16 145.68,503.88 148.13,503.59 150.58,503.28 153.03,502.97 155.47,502.65 157.92,502.32 160.37,501.98 162.82,501.64 165.27,501.29 167.72,500.95 170.17,500.60 172.62,500.26 175.07,499.92 177.52,499.59 179.97,499.27 182.42,498.96 184.87,498.66 187.32,498.37 189.77,498.11 192.22,497.86 194.66,497.64 197.11,497.44 199.56,497.28 202.01,497.14 204.46,497.04 206.91,496.98 209.36,496.97 211.81,496.99 214.26,497.07 216.71,497.19 219.16,497.38 221.61,497.62 224.06,497.93 226.51,498.30 228.96,498.75 231.41,499.27 233.85,499.87 236.30,500.55 238.75,501.33 241.20,502.20 243.65,503.16 246.10,504.23 248.55,505.41 251.00,506.70" fill="none" stroke="#00B050" stroke-width="1.25" stroke-dasharray="5.5 3"/>
<polyline points="57.50,502.58 59.95,502.38 62.40,502.20 64.85,502.03 67.30,501.88 69.75,501.74 72.20,501.61 74.65,501.49 77.09,501.39 79.54,501.29 81.99,501.21 84.44,501.13 86.89,501.06 89.34,501.00 91.79,500.95 94.24,500.90 96.69,500.86 99.14,500.83 101.59,500.80 104.04,500.77 106.49,500.75 108.94,500.74 111.39,500.73 113.84,500.72 116.28,500.71 118.73,500.71 121.18,500.70 123.63,500.70 126.08,500.70 128.53,500.70 130.98,500.71 133.43,500.71 135.88,500.71 138.33,500.72 140.78,500.72 143.23,500.72 145.68,500.73 148.13,500.73 150.58,500.73 153.03,500.73 155.47,500.73 157.92,500.73 160.37,500.73 162.82,500.73 165.27,500.72 167.72,500.72 170.17,500.71 172.62,500.71 175.07,500.70 177.52,500.70 179.97,500.69 182.42,500.68 184.87,500.67 187.32,500.67 189.77,500.66 192.22,500.65 194.66,500.65 197.11,500.64 199.56,500.64 202.01,500.63 204.46,500.63 206.91,500.64 209.36,500.64 211.81,500.65 214.26,500.66 216.71,500.67 219.16,500.69 221.61,500.71 224.06,500.74 226.51,500.78 228.96,500.82 231.41,500.86 233.85,500.92 236.30,500.98 238.75,501.05 241.20,501.13 243.65,501.22 246.10,501.32 248.55,501.43 251.00,501.55" fill="none" stroke="#F06A1E" stroke-width="1.25" stroke-dasharray="5.5 3"/>
<polyline points="57.50,506.10 59.95,506.10 62.40,506.10 64.85,506.10 67.30,506.10 69.75,506.10 72.20,506.10 74.65,506.10 77.09,506.10 79.54,506.10 81.99,506.10 84.44,506.10 86.89,506.10 89.34,506.10 91.79,506.10 94.24,506.10 96.69,506.10 99.14,506.10 101.59,506.10 104.04,506.10 106.49,506.10 108.94,506.10 111.39,506.10 113.84,506.10 116.28,506.10 118.73,506.10 121.18,506.10 123.63,506.10 126.08,506.10 128.53,506.10 130.98,506.10 133.43,506.10 135.88,506.10 138.33,506.10 140.78,506.10 143.23,506.10 145.68,506.10 148.13,506.10 150.58,506.10 153.03,506.10 155.47,506.10 157.92,506.10 160.37,506.10 162.82,506.10 165.27,506.10 167.72,506.10 170.17,506.10 172.62,506.10 175.07,506.10 177.52,506.10 179.97,506.10 182.42,506.10 184.87,506.10 187.32,506.10 189.77,506.10 192.22,506.10 194.66,506.10 197.11,506.10 199.56,506.10 202.01,506.10 204.46,506.10 206.91,506.10 209.36,506.10 211.81,506.10 214.26,506.10 216.71,506.10 219.16,506.10 221.61,506.10 224.06,506.10 226.51,506.10 228.96,506.10 231.41,506.10 233.85,506.10 236.30,506.10 238.75,506.10 241.20,506.10 243.65,506.10 246.10,506.10 248.55,506.10 251.00,506.10" fill="none" stroke="#404040" stroke-width="1.25" stroke-dasharray="5.5 3"/>
<line x1="53.5" y1="506.10" x2="57.5" y2="506.10" stroke="#2e2e2e" stroke-width="1.2"/>
<text transform="translate(46.30,510.00) scale(0.92,1)" font-size="14" text-anchor="end">0.0</text>
<line x1="53.5" y1="461.20" x2="57.5" y2="461.20" stroke="#2e2e2e" stroke-width="1.2"/>
<text transform="translate(46.30,465.10) scale(0.92,1)" font-size="14" text-anchor="end">0.1</text>
<line x1="53.5" y1="416.30" x2="57.5" y2="416.30" stroke="#2e2e2e" stroke-width="1.2"/>
<text transform="translate(46.30,420.20) scale(0.92,1)" font-size="14" text-anchor="end">0.2</text>
<line x1="53.5" y1="371.40" x2="57.5" y2="371.40" stroke="#2e2e2e" stroke-width="1.2"/>
<text transform="translate(46.30,375.30) scale(0.92,1)" font-size="14" text-anchor="end">0.3</text>
<line x1="53.5" y1="326.50" x2="57.5" y2="326.50" stroke="#2e2e2e" stroke-width="1.2"/>
<text transform="translate(46.30,330.40) scale(0.92,1)" font-size="14" text-anchor="end">0.4</text>
<line x1="53.5" y1="281.60" x2="57.5" y2="281.60" stroke="#2e2e2e" stroke-width="1.2"/>
<text transform="translate(46.30,285.50) scale(0.92,1)" font-size="14" text-anchor="end">0.5</text>
<line x1="57.50" y1="506.1" x2="57.50" y2="509.6" stroke="#2e2e2e" stroke-width="1.2"/>
<line x1="96.20" y1="506.1" x2="96.20" y2="509.6" stroke="#2e2e2e" stroke-width="1.2"/>
<line x1="134.90" y1="506.1" x2="134.90" y2="509.6" stroke="#2e2e2e" stroke-width="1.2"/>
<line x1="173.60" y1="506.1" x2="173.60" y2="509.6" stroke="#2e2e2e" stroke-width="1.2"/>
<line x1="212.30" y1="506.1" x2="212.30" y2="509.6" stroke="#2e2e2e" stroke-width="1.2"/>
<line x1="251.00" y1="506.1" x2="251.00" y2="509.6" stroke="#2e2e2e" stroke-width="1.2"/>
<text transform="translate(58.10,525.60) scale(0.92,1)" font-size="14" text-anchor="middle">100</text>
<text transform="translate(96.80,525.60) scale(0.92,1)" font-size="14" text-anchor="middle">140</text>
<text transform="translate(135.50,525.60) scale(0.92,1)" font-size="14" text-anchor="middle">180</text>
<text transform="translate(174.20,525.60) scale(0.92,1)" font-size="14" text-anchor="middle">220</text>
<text transform="translate(212.90,525.60) scale(0.92,1)" font-size="14" text-anchor="middle">260</text>
<text transform="translate(251.60,525.60) scale(0.92,1)" font-size="14" text-anchor="middle">300</text>
<text x="155.25" y="539.90" font-size="14" text-anchor="middle">T (°C)</text>
<text transform="translate(23.70,393.85) rotate(-90)" font-size="14.4" text-anchor="middle">mol CH<tspan font-size="9.5" dy="2.6">4</tspan><tspan dy="-2.6"> produced/mol C inlet</tspan></text>
<text x="62.5" y="297.8" font-size="14" font-weight="bold">(c)</text>
<rect x="318" y="281.6" width="194" height="224.5" fill="none" stroke="#2e2e2e" stroke-width="1.5"/>
<path d="M337.40 496.96L341.70 505.36L333.10 505.36Z" fill="#7030A0"/>
<path d="M356.80 498.31L361.10 506.71L352.50 506.71Z" fill="#7030A0"/>
<path d="M376.20 497.41L380.50 505.81L371.90 505.81Z" fill="#7030A0"/>
<path d="M395.60 502.80L399.90 511.20L391.30 511.20Z" fill="#7030A0"/>
<path d="M492.60 496.06L496.90 504.46L488.30 504.46Z" fill="#7030A0"/>
<path d="M512.00 496.51L516.30 504.91L507.70 504.91Z" fill="#7030A0"/>
<rect x="315.10" y="503.20" width="5.8" height="5.8" fill="#0070C0"/>
<rect x="334.50" y="503.20" width="5.8" height="5.8" fill="#0070C0"/>
<rect x="353.90" y="503.20" width="5.8" height="5.8" fill="#0070C0"/>
<rect x="373.30" y="503.20" width="5.8" height="5.8" fill="#0070C0"/>
<rect x="392.70" y="503.20" width="5.8" height="5.8" fill="#0070C0"/>
<rect x="412.10" y="502.30" width="5.8" height="5.8" fill="#0070C0"/>
<rect x="431.50" y="501.85" width="5.8" height="5.8" fill="#0070C0"/>
<rect x="450.90" y="500.96" width="5.8" height="5.8" fill="#0070C0"/>
<rect x="470.30" y="500.51" width="5.8" height="5.8" fill="#0070C0"/>
<rect x="489.70" y="501.40" width="5.8" height="5.8" fill="#0070C0"/>
<rect x="509.10" y="502.30" width="5.8" height="5.8" fill="#0070C0"/>
<path d="M376.20 501.80L380.50 506.10L376.20 510.40L371.90 506.10Z" fill="#00B050"/>
<path d="M415.00 496.86L419.30 501.16L415.00 505.46L410.70 501.16Z" fill="#00B050"/>
<path d="M434.40 494.17L438.70 498.47L434.40 502.77L430.10 498.47Z" fill="#00B050"/>
<path d="M453.80 493.27L458.10 497.57L453.80 501.87L449.50 497.57Z" fill="#00B050"/>
<path d="M473.20 492.82L477.50 497.12L473.20 501.42L468.90 497.12Z" fill="#00B050"/>
<path d="M492.60 496.41L496.90 500.71L492.60 505.01L488.30 500.71Z" fill="#00B050"/>
<path d="M512.00 501.35L516.30 505.65L512.00 509.95L507.70 505.65Z" fill="#00B050"/>
<polyline points="318.00,505.79 320.46,505.06 322.91,504.41 325.37,503.84 327.82,503.34 330.28,502.91 332.73,502.55 335.19,502.25 337.65,502.01 340.10,501.82 342.56,501.68 345.01,501.58 347.47,501.53 349.92,501.51 352.38,501.53 354.84,501.59 357.29,501.67 359.75,501.77 362.20,501.90 364.66,502.05 367.11,502.22 369.57,502.40 372.03,502.59 374.48,502.79 376.94,503.00 379.39,503.21 381.85,503.43 384.30,503.65 386.76,503.86 389.22,504.07 391.67,504.28 394.13,504.48 396.58,504.67 399.04,504.85 401.49,505.03 403.95,505.19 406.41,505.33 408.86,505.46 411.32,505.58 413.77,505.68 416.23,505.77 418.68,505.84 421.14,505.89 423.59,505.92 426.05,505.93 428.51,505.93 430.96,505.91 433.42,505.87 435.87,505.81 438.33,505.73 440.78,505.64 443.24,505.52 445.70,505.40 448.15,505.25 450.61,505.09 453.06,504.92 455.52,504.73 457.97,504.53 460.43,504.32 462.89,504.10 465.34,503.87 467.80,503.64 470.25,503.39 472.71,503.15 475.16,502.90 477.62,502.66 480.08,502.41 482.53,502.17 484.99,501.94 487.44,501.72 489.90,501.50 492.35,501.30 494.81,501.12 497.27,500.96 499.72,500.81 502.18,500.70 504.63,500.61 507.09,500.55 509.54,500.53 512.00,500.54" fill="none" stroke="#7030A0" stroke-width="1.25" stroke-dasharray="5.5 3"/>
<polyline points="318.00,506.07 320.46,506.07 322.91,506.06 325.37,506.06 327.82,506.07 330.28,506.08 332.73,506.09 335.19,506.10 337.65,506.11 340.10,506.12 342.56,506.14 345.01,506.15 347.47,506.16 349.92,506.17 352.38,506.18 354.84,506.19 357.29,506.20 359.75,506.20 362.20,506.20 364.66,506.20 367.11,506.19 369.57,506.18 372.03,506.17 374.48,506.15 376.94,506.13 379.39,506.11 381.85,506.08 384.30,506.05 386.76,506.01 389.22,505.97 391.67,505.93 394.13,505.88 396.58,505.83 399.04,505.77 401.49,505.71 403.95,505.65 406.41,505.58 408.86,505.51 411.32,505.44 413.77,505.36 416.23,505.28 418.68,505.20 421.14,505.12 423.59,505.03 426.05,504.95 428.51,504.86 430.96,504.77 433.42,504.68 435.87,504.59 438.33,504.50 440.78,504.42 443.24,504.33 445.70,504.25 448.15,504.16 450.61,504.09 453.06,504.01 455.52,503.94 457.97,503.88 460.43,503.82 462.89,503.77 465.34,503.72 467.80,503.68 470.25,503.66 472.71,503.64 475.16,503.63 477.62,503.63 480.08,503.64 482.53,503.67 484.99,503.71 487.44,503.76 489.90,503.83 492.35,503.92 494.81,504.03 497.27,504.15 499.72,504.29 502.18,504.45 504.63,504.64 507.09,504.85 509.54,505.08 512.00,505.33" fill="none" stroke="#2A8FDA" stroke-width="1.25" stroke-dasharray="5.5 3"/>
<polyline points="318.00,505.73 320.46,505.87 322.91,506.01 325.37,506.13 327.82,506.25 330.28,506.36 332.73,506.46 335.19,506.54 337.65,506.62 340.10,506.68 342.56,506.72 345.01,506.76 347.47,506.78 349.92,506.79 352.38,506.78 354.84,506.75 357.29,506.72 359.75,506.66 362.20,506.59 364.66,506.51 367.11,506.41 369.57,506.29 372.03,506.16 374.48,506.02 376.94,505.86 379.39,505.68 381.85,505.49 384.30,505.29 386.76,505.08 389.22,504.85 391.67,504.61 394.13,504.36 396.58,504.10 399.04,503.82 401.49,503.54 403.95,503.25 406.41,502.96 408.86,502.66 411.32,502.35 413.77,502.04 416.23,501.72 418.68,501.41 421.14,501.09 423.59,500.78 426.05,500.46 428.51,500.16 430.96,499.85 433.42,499.56 435.87,499.27 438.33,498.99 440.78,498.72 443.24,498.47 445.70,498.24 448.15,498.02 450.61,497.82 453.06,497.64 455.52,497.49 457.97,497.36 460.43,497.26 462.89,497.19 465.34,497.15 467.80,497.15 470.25,497.19 472.71,497.26 475.16,497.38 477.62,497.54 480.08,497.75 482.53,498.01 484.99,498.33 487.44,498.70 489.90,499.13 492.35,499.62 494.81,500.17 497.27,500.80 499.72,501.49 502.18,502.26 504.63,503.10 507.09,504.03 509.54,505.04 512.00,506.14" fill="none" stroke="#00B050" stroke-width="1.25" stroke-dasharray="5.5 3"/>
<line x1="314" y1="506.10" x2="318" y2="506.10" stroke="#2e2e2e" stroke-width="1.2"/>
<text transform="translate(306.80,510.00) scale(0.92,1)" font-size="14" text-anchor="end">0.0</text>
<line x1="314" y1="461.20" x2="318" y2="461.20" stroke="#2e2e2e" stroke-width="1.2"/>
<text transform="translate(306.80,465.10) scale(0.92,1)" font-size="14" text-anchor="end">0.1</text>
<line x1="314" y1="416.30" x2="318" y2="416.30" stroke="#2e2e2e" stroke-width="1.2"/>
<text transform="translate(306.80,420.20) scale(0.92,1)" font-size="14" text-anchor="end">0.2</text>
<line x1="314" y1="371.40" x2="318" y2="371.40" stroke="#2e2e2e" stroke-width="1.2"/>
<text transform="translate(306.80,375.30) scale(0.92,1)" font-size="14" text-anchor="end">0.3</text>
<line x1="314" y1="326.50" x2="318" y2="326.50" stroke="#2e2e2e" stroke-width="1.2"/>
<text transform="translate(306.80,330.40) scale(0.92,1)" font-size="14" text-anchor="end">0.4</text>
<line x1="314" y1="281.60" x2="318" y2="281.60" stroke="#2e2e2e" stroke-width="1.2"/>
<text transform="translate(306.80,285.50) scale(0.92,1)" font-size="14" text-anchor="end">0.5</text>
<line x1="318.00" y1="506.1" x2="318.00" y2="509.6" stroke="#2e2e2e" stroke-width="1.2"/>
<line x1="356.80" y1="506.1" x2="356.80" y2="509.6" stroke="#2e2e2e" stroke-width="1.2"/>
<line x1="395.60" y1="506.1" x2="395.60" y2="509.6" stroke="#2e2e2e" stroke-width="1.2"/>
<line x1="434.40" y1="506.1" x2="434.40" y2="509.6" stroke="#2e2e2e" stroke-width="1.2"/>
<line x1="473.20" y1="506.1" x2="473.20" y2="509.6" stroke="#2e2e2e" stroke-width="1.2"/>
<line x1="512.00" y1="506.1" x2="512.00" y2="509.6" stroke="#2e2e2e" stroke-width="1.2"/>
<text transform="translate(318.60,525.60) scale(0.92,1)" font-size="14" text-anchor="middle">100</text>
<text transform="translate(357.40,525.60) scale(0.92,1)" font-size="14" text-anchor="middle">140</text>
<text transform="translate(396.20,525.60) scale(0.92,1)" font-size="14" text-anchor="middle">180</text>
<text transform="translate(435.00,525.60) scale(0.92,1)" font-size="14" text-anchor="middle">220</text>
<text transform="translate(473.80,525.60) scale(0.92,1)" font-size="14" text-anchor="middle">260</text>
<text transform="translate(512.60,525.60) scale(0.92,1)" font-size="14" text-anchor="middle">300</text>
<text x="416.00" y="539.90" font-size="14" text-anchor="middle">T (°C)</text>
<text transform="translate(284.20,393.85) rotate(-90)" font-size="14.4" text-anchor="middle">mol CH<tspan font-size="9.5" dy="2.6">4</tspan><tspan dy="-2.6"> produced/mol C inlet</tspan></text>
<text x="323" y="297.8" font-size="14" font-weight="bold">(d)</text>
<circle cx="202.30" cy="26.80" r="2.3" fill="#FF0000"/>
<text x="213" y="31.200000000000003" font-size="13.4"><tspan dy="0">CeO</tspan><tspan font-size="8.0" dy="1.9">2</tspan></text>
<path d="M202.30 38.10L206.70 42.50L202.30 46.90L197.90 42.50Z" fill="#00B050"/>
<text x="213" y="46.9" font-size="13.4"><tspan dy="0">SiO</tspan><tspan font-size="8.0" dy="1.9">2</tspan></text>
<path d="M202.30 54.25L206.70 62.75L197.90 62.75Z" fill="#7030A0"/>
<text x="213" y="62.9" font-size="13.4"><tspan dy="0">ZrO</tspan><tspan font-size="8.0" dy="1.9">2</tspan></text>
<path d="M202.30 70.80V77.60M199.58 71.65L205.02 76.75M205.02 71.65L199.58 76.75" stroke="#F06A1E" stroke-width="1.3" fill="none"/>
<text x="213" y="78.60000000000001" font-size="13.4"><tspan dy="0">Al</tspan><tspan font-size="8.0" dy="1.9">2</tspan><tspan dy="-1.9">O</tspan><tspan font-size="8.0" dy="1.9">3</tspan></text>
<rect x="199.60" y="86.10" width="5.4" height="5.4" fill="#00B0F0"/>
<text x="213" y="93.2" font-size="13.4"><tspan dy="0">La</tspan><tspan font-size="8.0" dy="1.9">2</tspan><tspan dy="-1.9">O</tspan><tspan font-size="8.0" dy="1.9">3</tspan></text>
<path d="M199.30 104.20H205.30M202.30 101.20V107.20" stroke="#404040" stroke-width="1.1" fill="none"/>
<text x="213" y="108.60000000000001" font-size="13.4"><tspan dy="0">Fe</tspan><tspan font-size="8.0" dy="1.9">2</tspan><tspan dy="-1.9">O</tspan><tspan font-size="8.0" dy="1.9">3</tspan></text>
<path d="M434.40 21.25L438.80 29.75L430.00 29.75Z" fill="#7030A0"/>
<text x="439.5" y="29.3" font-size="13.4"><tspan dy="0">CeO</tspan><tspan font-size="8.0" dy="1.9">2</tspan><tspan dy="-1.9">-SiO</tspan><tspan font-size="8.0" dy="1.9">2</tspan></text>
<rect x="431.70" y="37.20" width="5.4" height="5.4" fill="#0070C0"/>
<text x="439.5" y="43.699999999999996" font-size="13.4"><tspan dy="0">CeO</tspan><tspan font-size="8.0" dy="1.9">2</tspan><tspan dy="-1.9">-ZrO</tspan><tspan font-size="8.0" dy="1.9">2</tspan></text>
<path d="M434.40 52.00L438.80 56.40L434.40 60.80L430.00 56.40Z" fill="#00B050"/>
<text x="439.5" y="60.199999999999996" font-size="13.4"><tspan dy="0">CeO</tspan><tspan font-size="8.0" dy="1.9">2</tspan><tspan dy="-1.9">-Al</tspan><tspan font-size="8.0" dy="1.9">2</tspan><tspan dy="-1.9">O</tspan><tspan font-size="8.0" dy="1.9">3</tspan></text>
<circle cx="204.00" cy="298.30" r="2.3" fill="#FF0000"/>
<text x="213" y="302.7" font-size="13.4"><tspan dy="0">CeO</tspan><tspan font-size="8.0" dy="1.9">2</tspan></text>
<path d="M204.00 309.10L208.40 317.60L199.60 317.60Z" fill="#7030A0"/>
<text x="213" y="317.75" font-size="13.4"><tspan dy="0">SiO</tspan><tspan font-size="8.0" dy="1.9">2</tspan></text>
<rect x="201.30" y="325.70" width="5.4" height="5.4" fill="#00B0F0"/>
<text x="213" y="332.8" font-size="13.4"><tspan dy="0">ZrO</tspan><tspan font-size="8.0" dy="1.9">2</tspan></text>
<path d="M204.00 339.05L208.40 343.45L204.00 347.85L199.60 343.45Z" fill="#00B050"/>
<text x="213" y="347.85" font-size="13.4"><tspan dy="0">Al</tspan><tspan font-size="8.0" dy="1.9">2</tspan><tspan dy="-1.9">O</tspan><tspan font-size="8.0" dy="1.9">3</tspan></text>
<path d="M204.00 355.10V361.90M201.28 355.95L206.72 361.05M206.72 355.95L201.28 361.05" stroke="#F06A1E" stroke-width="1.3" fill="none"/>
<text x="213" y="362.9" font-size="13.4"><tspan dy="0">La</tspan><tspan font-size="8.0" dy="1.9">2</tspan><tspan dy="-1.9">O</tspan><tspan font-size="8.0" dy="1.9">3</tspan></text>
<path d="M201.00 373.55H207.00M204.00 370.55V376.55" stroke="#404040" stroke-width="1.1" fill="none"/>
<text x="213" y="377.95" font-size="13.4"><tspan dy="0">Fe</tspan><tspan font-size="8.0" dy="1.9">2</tspan><tspan dy="-1.9">O</tspan><tspan font-size="8.0" dy="1.9">3</tspan></text>
<path d="M431.80 293.35L436.20 301.85L427.40 301.85Z" fill="#7030A0"/>
<text x="441.0" y="301.40000000000003" font-size="13.4"><tspan dy="0">CeO</tspan><tspan font-size="8.0" dy="1.9">2</tspan><tspan dy="-1.9">-SiO</tspan><tspan font-size="8.0" dy="1.9">2</tspan></text>
<rect x="429.10" y="309.40" width="5.4" height="5.4" fill="#0070C0"/>
<text x="441.0" y="315.90000000000003" font-size="13.4"><tspan dy="0">CeO</tspan><tspan font-size="8.0" dy="1.9">2</tspan><tspan dy="-1.9">-ZrO</tspan><tspan font-size="8.0" dy="1.9">2</tspan></text>
<path d="M431.80 322.20L436.20 326.60L431.80 331.00L427.40 326.60Z" fill="#00B050"/>
<text x="441.0" y="330.40000000000003" font-size="13.4"><tspan dy="0">CeO</tspan><tspan font-size="8.0" dy="1.9">2</tspan><tspan dy="-1.9">-Al</tspan><tspan font-size="8.0" dy="1.9">2</tspan><tspan dy="-1.9">O</tspan><tspan font-size="8.0" dy="1.9">3</tspan></text>
</svg></body></html>
